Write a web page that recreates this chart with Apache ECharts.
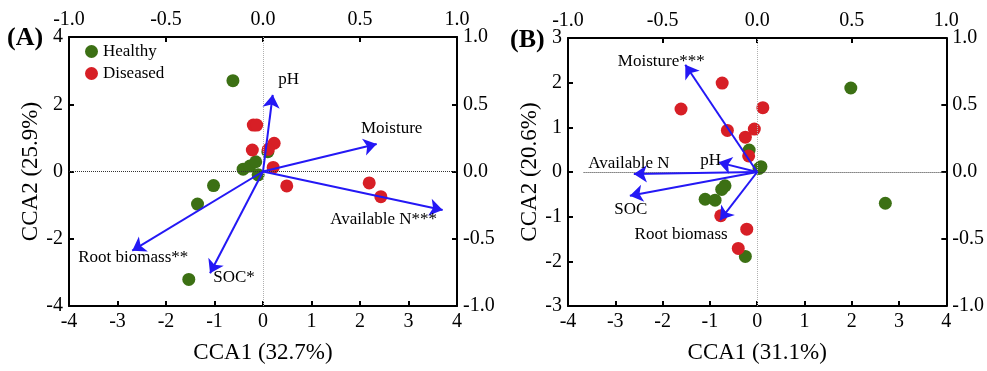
<!DOCTYPE html>
<html>
<head>
<meta charset="utf-8">
<script src="https://cdn.jsdelivr.net/npm/echarts@6/dist/echarts.min.js"></script>
<style>
html,body{margin:0;padding:0;background:#fff;}
#chart{width:987px;height:371px;}
</style>
</head>
<body>
<div id="chart"></div>
<script>
// ---------- DATA ----------
const seriesNames = ['Healthy', 'Diseased'];

// Panel A sample scores (CCA1, CCA2)
const healthyA = [[-0.62, 2.70], [-1.02, -0.42], [-1.35, -0.97], [-1.53, -3.21], [-0.41, 0.07], [-0.27, 0.16], [-0.15, 0.29], [-0.10, -0.10], [0.10, 0.59]];
const diseasedA = [[-0.20, 1.38], [-0.13, 1.38], [-0.22, 0.64], [0.23, 0.84], [0.11, 0.66], [0.21, 0.12], [0.49, -0.43], [2.19, -0.34], [2.43, -0.75]];
// Panel A environmental biplot scores (top / right axes)
const envNamesA = ['pH', 'Moisture', 'Available N***', 'Root biomass**', 'SOC*'];
const envScoresA = [[0.05, 0.57], [0.586, 0.204], [0.926, -0.286], [-0.674, -0.589], [-0.273, -0.757]];

// Panel B sample scores
const healthyB = [[1.98, 1.88], [2.71, -0.70], [-0.17, 0.49], [0.08, 0.12], [0.04, 0.08], [-0.68, -0.31], [-0.75, -0.39], [-1.10, -0.61], [-0.89, -0.63], [-0.25, -1.89]];
const diseasedB = [[-0.74, 1.99], [-1.61, 1.41], [0.12, 1.44], [-0.63, 0.93], [-0.06, 0.96], [-0.25, 0.78], [-0.18, 0.36], [-0.77, -0.98], [-0.22, -1.28], [-0.40, -1.71]];
const envNamesB = ['Moisture***', 'pH', 'Available N', 'SOC', 'Root biomass'];
const envScoresB = [[-0.38, 0.80], [-0.204, 0.072], [-0.652, -0.015], [-0.673, -0.177], [-0.196, -0.359]];

// Axis titles / panel labels
const panelLabels = ['(A)', '(B)'];
const xTitles = ['CCA1 (32.7%)', 'CCA1 (31.1%)'];
const yTitles = ['CCA2 (25.9%)', 'CCA2 (20.6%)'];
const xRange = [-4, 4];
const yRangeA = [-4, 4];
const yRangeB = [-3, 3];
const envRange = [-1, 1];

// ---------- STYLE ----------
const FONT = 'Liberation Serif';
const GREEN = '#3c7014';
const RED = '#d71f26';
const BLUE = '#2418f5';
// label offsets (px) for env arrows
const offA = [[16, -15], [15, -16], [-59, 10], [1, 7], [24, 4]];
const offB = [[-24, -3], [-8, -2], [-5, -10], [1, 14], [-39, 14]];

const chart = echarts.init(document.getElementById('chart'));

const axisCommon = {
  type: 'value',
  splitLine: { show: false },
  axisLine: { show: true, onZero: false, lineStyle: { color: '#000', width: 2 } },
  axisTick: { show: true, inside: true, length: 5, lineStyle: { color: '#000', width: 2 } },
  axisLabel: { color: '#000', fontFamily: FONT, fontSize: 20, margin: 6 },
  nameTextStyle: { color: '#000', fontFamily: FONT, fontSize: 23 }
};
function ax(extra) { return Object.assign({}, JSON.parse(JSON.stringify(axisCommon)), extra); }
const oneDec = v => v.toFixed(1);

function mkXAxes(g, title) {
  return [
    ax({ gridIndex: g, position: 'bottom', min: xRange[0], max: xRange[1], interval: 1,
         name: title, nameLocation: 'middle', nameGap: 35 }),
    ax({ gridIndex: g, position: 'top', min: envRange[0], max: envRange[1], interval: 0.5,
         axisLabel: { color: '#000', fontFamily: FONT, fontSize: 20, margin: 7, formatter: oneDec } })
  ];
}
function mkYAxes(g, title, range, interval) {
  return [
    ax({ gridIndex: g, position: 'left', min: range[0], max: range[1], interval: interval,
         name: title, nameLocation: 'middle', nameGap: 24 }),
    ax({ gridIndex: g, position: 'right', min: envRange[0], max: envRange[1], interval: 0.5,
         axisLabel: { color: '#000', fontFamily: FONT, fontSize: 20, margin: 6, formatter: oneDec } })
  ];
}

function pointSeries(name, data, xi, yi, color, markLine) {
  const s = {
    name: name, type: 'scatter', xAxisIndex: xi, yAxisIndex: yi, data: data,
    symbol: 'circle', symbolSize: 13, itemStyle: { color: color, opacity: 1 },
    emphasis: { disabled: true }
  };
  if (markLine) s.markLine = markLine;
  return s;
}
function refLinesFull(yr, xStart) {
  return {
    silent: true, symbol: 'none', label: { show: false }, animation: false,
    data: [
      [{ coord: [0, yr[0]], lineStyle: { color: '#b0b0b0', type: 'dotted', width: 1 } }, { coord: [0, yr[1]] }],
      [{ coord: [xStart, 0], lineStyle: { color: '#333', type: 'dotted', width: 1 } }, { coord: [xRange[1], 0] }]
    ]
  };
}
function arrowSeries(scores, xi, yi) {
  return {
    type: 'lines', coordinateSystem: 'cartesian2d', xAxisIndex: xi, yAxisIndex: yi,
    symbol: ['none', 'arrow'], symbolSize: 13, silent: true,
    lineStyle: { color: BLUE, width: 2, opacity: 1, curveness: 0 },
    data: scores.map(p => ({ coords: [[0, 0], p] })),
    z: 5
  };
}
function labelSeries(names, scores, offs, xi, yi) {
  return {
    type: 'scatter', xAxisIndex: xi, yAxisIndex: yi, symbolSize: 1, silent: true, z: 6,
    itemStyle: { opacity: 0 },
    emphasis: { disabled: true },
    data: scores.map((p, i) => ({
      value: p,
      label: { show: true, formatter: names[i], position: 'inside', offset: offs[i],
               color: '#000', opacity: 1, fontFamily: FONT, fontSize: 17 }
    }))
  };
}

const option = {
  animation: false,
  backgroundColor: '#fff',
  grid: [
    { left: 69, top: 37, width: 388, height: 269 },
    { left: 568, top: 38, width: 387, height: 268 }
  ],
  xAxis: [...mkXAxes(0, xTitles[0]), ...mkXAxes(1, xTitles[1])],
  yAxis: [...mkYAxes(0, yTitles[0], yRangeA, 2), ...mkYAxes(1, yTitles[1], yRangeB, 1)],
  legend: {
    data: seriesNames, orient: 'vertical', left: 80, top: 38, itemGap: 5,
    itemWidth: 13, itemHeight: 13, icon: 'circle',
    textStyle: { color: '#000', fontFamily: FONT, fontSize: 17 }
  },
  graphic: [
    { type: 'text', left: 7, top: 25, style: { text: panelLabels[0], font: 'bold 26px "Liberation Serif"', fill: '#000' } },
    { type: 'text', left: 510, top: 27, style: { text: panelLabels[1], font: 'bold 26px "Liberation Serif"', fill: '#000' } }
  ],
  series: [
    pointSeries(seriesNames[0], healthyA, 0, 0, GREEN, refLinesFull(yRangeA, xRange[0])),
    pointSeries(seriesNames[1], diseasedA, 0, 0, RED),
    arrowSeries(envScoresA, 1, 1),
    labelSeries(envNamesA, envScoresA, offA, 1, 1),
    pointSeries(seriesNames[0], healthyB, 2, 2, GREEN, refLinesFull(yRangeB, -3.67)),
    pointSeries(seriesNames[1], diseasedB, 2, 2, RED),
    arrowSeries(envScoresB, 3, 3),
    labelSeries(envNamesB, envScoresB, offB, 3, 3)
  ]
};
chart.setOption(option);
</script>
</body>
</html>
